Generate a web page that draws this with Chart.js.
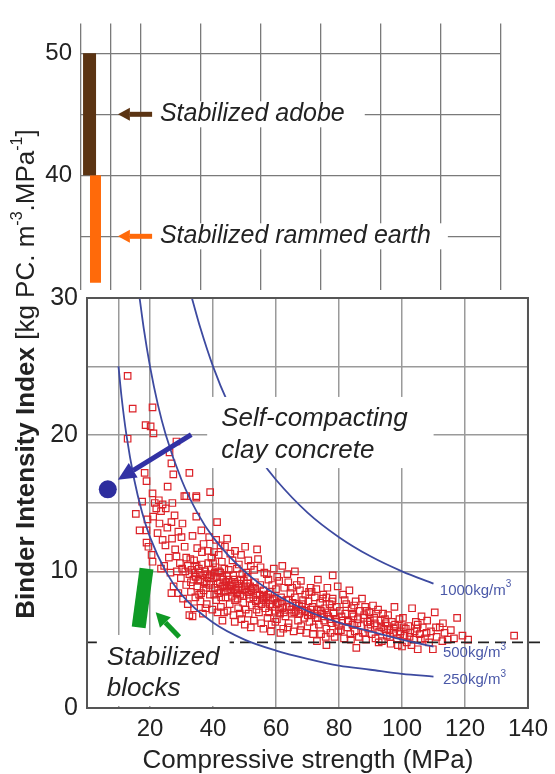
<!DOCTYPE html>
<html>
<head>
<meta charset="utf-8">
<script src="https://cdn.jsdelivr.net/npm/chart.js@4.4.1/dist/chart.umd.min.js"></script>
<style>
  html, body { margin: 0; padding: 0; background: #fff; }
  #wrap { position: relative; width: 555px; height: 774px; }
  canvas { position: absolute; left: 0; top: 0; }
</style>
</head>
<body>
<div id="wrap">
  <canvas id="lowerChart" width="555" height="774"></canvas>
  <canvas id="upperChart" width="555" height="774"></canvas>
</div>
<script>
// ---- valores ----
const xTicks = [0, 10, 20, 40, 60, 80, 100, 120, 140];
const xTickLabels = ['', '', '20', '40', '60', '80', '100', '120', '140'];
const lowerYTicks = [0, 10, 15, 20, 25, 30];
const lowerYLabels = ['0', '10', '', '20', '', '30'];
const upperYTicks = [35, 40, 45, 50];
const upperYLabels = ['', '40', '', '50'];

// painel superior (faixas verticais)
const adobeX = [2.85, 2.85];
const adobeY = [40, 50];
const rammedX = [4.83, 4.83];
const rammedY = [31.2, 40];

// painel inferior
const blocksX = [16.4, 18.9];
const blocksY = [5.9, 10.2];
const sccX = [6.6];
const sccY = [16.0];
const refLineX = [0, 145];
const refLineY = [4.8, 4.8];

const curve1000X = [33.3, 36, 40, 45, 50, 55, 60, 70, 80, 90, 100, 110];
const curve1000Y = [30, 27.8, 25, 22.2, 20, 18.2, 16.7, 14.3, 12.5, 11.1, 10, 9.1];
const curve500X = [16.7, 18, 20, 22.5, 25, 30, 35, 40, 50, 60, 70, 80, 90, 100, 110];
const curve500Y = [30, 27.8, 25, 22.2, 20, 16.7, 14.3, 12.5, 10, 8.3, 7.1, 6.25, 5.6, 5, 4.5];
const curve250X = [10, 11, 12.5, 15, 17.5, 20, 25, 30, 40, 50, 60, 70, 80, 90, 100, 110];
const curve250Y = [25, 22.7, 20, 16.7, 14.3, 12.5, 10, 8.3, 6.25, 5, 4.2, 3.6, 3.1, 2.8, 2.5, 2.3];

// nuvem de ensaios [resistência, índice]
const mixPoints = [
  [12.9,24.3],[14.5,21.9],[12.9,19.7],[16.7,13.0],[18.9,13.0],[18.9,12.1],[18.3,17.2],[18.9,16.6],[18.6,20.7],[15.5,14.2],[17.5,15.1],[19.2,13.8],[19.5,11.8],
  [20.2,20.6],[20.8,22.0],[21.1,20.1],[20.5,11.2],[20.8,10.7],[20.8,15.7],[21.5,15.0],[22.0,14.6],[22.8,15.2],[23.5,14.4],[24.0,14.9],[22.4,12.8],[24.0,12.3],[24.9,11.9],
  [25.6,16.2],[26.2,18.7],[26.8,17.9],[27.4,17.1],[27.1,15.0],[27.8,14.1],[26.8,13.6],[28.4,19.5],[23.0,13.5],[25.5,13.2],[26.0,11.0],[27.0,12.4],[28.0,11.6],[29.0,12.9],
  [28.4,11.1],[29.5,10.6],[24.5,10.4],[23.5,10.2],[26.5,9.9],[28.5,10.0],[29.8,9.5],[27.5,8.9],[29.0,8.4],[21.0,14.0],[25.0,14.6],[26.8,8.4],
  [30.2,10.2],[30.3,13.5],[30.0,12.5],[30.9,15.5],[32.5,17.2],[34.7,15.4],[34.7,14.0],[36.3,13.0],[38.8,12.5],[39.1,15.8],[31.0,11.8],[31.5,11.0],[32.0,10.4],[32.5,9.8],
  [33.0,9.2],[33.5,6.7],[33.0,8.5],[34.0,10.8],[34.5,9.6],[35.0,8.9],[35.5,10.2],[36.0,9.4],[36.5,11.4],[37.0,8.6],[37.5,10.0],[38.0,9.1],[38.5,10.6],[39.0,8.3],[39.5,9.7],
  [35.0,11.7],[36.0,7.8],[37.0,12.0],[38.0,7.6],[39.5,11.0],[31.5,9.0],[32.0,7.6],[34.0,7.3],[36.8,6.9],[33.5,12.6],[30.5,8.0],[39.8,7.2],[32.8,10.9],[35.8,9.9],[37.8,8.8],
  [31.2,10.0],[33.8,9.4],[36.2,8.4],[38.6,9.5],[32.5,6.8],[34.7,15.5],[31.5,15.5],
  [40.2,9.5],[40.5,8.8],[40.8,10.3],[41.0,7.9],[41.3,13.6],[41.5,9.1],[41.8,11.2],[42.0,8.4],[42.3,9.9],[42.5,7.4],[42.8,10.7],[43.0,8.9],[43.3,9.4],[43.5,7.0],[43.8,11.8],
  [44.0,8.1],[44.5,12.4],[44.5,9.7],[44.8,8.6],[45.0,10.1],[45.3,7.6],[45.6,9.0],[46.0,8.2],[46.2,10.8],[46.5,6.8],[46.8,9.4],[47.0,7.9],[47.3,8.7],[47.6,10.2],[48.0,7.3],
  [48.3,9.1],[48.6,8.3],[48.9,11.2],[49.0,6.5],[49.3,9.8],[49.6,7.7],[50.0,8.9],[41.0,12.3],[43.0,6.4],[47.0,11.5],[40.6,9.9],[42.6,8.1],[44.2,9.2],[45.8,8.5],[47.8,8.0],
  [49.8,9.3],[41.6,8.6],[43.6,10.2],[46.4,9.7],[48.2,10.5],
  [50.2,11.8],[50.4,7.2],[50.8,8.5],[51.0,9.6],[51.3,6.9],[51.6,8.0],[52.0,10.4],[52.3,7.5],[52.6,8.8],[53.0,6.4],[53.3,9.2],[53.6,7.8],[54.0,8.4],[54.3,10.9],[54.6,7.0],
  [55.0,9.0],[55.3,6.2],[55.6,7.9],[56.0,8.6],[56.3,9.9],[56.6,7.3],[57.0,8.1],[57.3,6.6],[57.6,9.4],[58.0,7.6],[58.3,8.5],[58.6,6.1],[59.0,7.9],[59.3,10.2],[59.6,7.1],
  [60.0,8.7],[52.0,5.9],[56.0,5.8],[54.0,11.6],[51.8,8.9],[53.8,7.2],[55.8,8.2],[57.8,7.0],[50.6,9.9],[58.8,9.0],
  [60.3,6.5],[60.6,7.7],[61.0,9.3],[61.3,6.9],[61.6,8.1],[62.0,7.3],[62.3,5.8],[62.6,8.8],[63.0,6.7],[63.3,7.9],[63.6,9.8],[64.0,6.2],[64.3,7.4],[64.6,8.4],[65.0,6.9],
  [65.3,7.7],[65.6,5.6],[66.0,8.1],[66.3,7.1],[66.6,9.0],[67.0,6.4],[67.3,7.5],[67.6,8.6],[68.0,6.0],[68.3,7.2],[68.6,7.9],[69.0,6.6],[69.3,8.3],[69.6,5.5],[70.0,7.0],
  [62.0,10.4],[66.0,10.0],
  [70.3,7.8],[70.6,6.3],[71.0,8.8],[71.3,6.8],[71.6,7.4],[72.0,5.9],[72.3,8.1],[72.6,6.6],[73.0,7.2],[73.3,9.4],[73.6,6.1],[74.0,7.7],[74.3,5.4],[74.6,6.9],[75.0,8.3],
  [75.3,6.4],[75.6,7.3],[76.0,5.8],[76.3,8.8],[76.6,6.7],[77.0,7.6],[77.3,5.5],[77.6,6.2],[78.0,8.0],[78.3,7.0],[78.6,5.2],[79.0,6.5],[79.3,7.4],[79.6,8.9],[80.0,6.0],
  [73.0,4.9],[76.0,4.6],[78.0,9.7],[71.3,8.5],[76.0,8.1],
  [80.3,7.1],[80.6,5.7],[81.0,6.4],[81.3,8.3],[81.6,5.1],[82.0,6.9],[82.3,7.6],[82.6,5.9],[83.0,6.3],[83.3,8.6],[83.6,5.4],[84.0,7.3],[84.3,6.1],[84.6,6.7],[85.0,5.6],
  [85.5,4.4],[85.3,7.8],[86.0,6.5],[86.3,5.2],[86.6,7.1],[87.0,6.0],[87.3,8.0],[87.6,5.5],[88.0,6.8],[88.3,7.4],[88.6,5.0],[89.0,6.3],[89.3,5.8],[89.6,7.0],[90.0,6.1],
  [90.4,5.4],[90.8,7.5],[91.2,6.6],[91.6,5.1],[92.0,6.0],[92.4,7.2],[92.8,5.6],[93.2,6.4],[93.6,4.9],[94.0,6.9],[94.4,5.8],[94.8,6.2],[95.2,5.3],[95.6,6.8],[96.0,5.7],
  [96.4,4.7],[96.8,6.3],[97.2,5.5],[97.6,7.4],[98.0,5.9],[98.4,5.1],[98.7,4.6],[99.2,6.5],[99.6,5.6],[100.0,4.5],
  [100.3,6.6],[100.8,5.3],[101.5,4.8],[102.0,6.0],[102.6,5.5],[103.2,7.3],[103.8,5.0],[104.4,6.3],[105.0,6.1],[105.0,4.3],[105.6,5.4],[106.6,5.9],[107.3,5.1],[108.0,6.4],
  [108.6,4.8],[109.2,5.6],[109.8,4.3],[110.4,7.0],[111.0,5.2],[112.0,5.9],[112.8,4.9],[113.5,5.5],[114.5,5.0],[115.5,5.7],[116.5,5.1],[119.2,5.3],[117.5,6.6],[121.0,5.0],
  [135.6,5.3],
  // núcleo denso da nuvem
  [33.2,10.1],[34.2,9.9],[34.8,10.4],[35.4,9.3],[36.4,10.5],[36.9,9.7],[37.3,9.2],[38.2,9.8],[38.9,9.0],[39.3,10.1],[40.0,10.6],[40.4,8.3],[41.2,9.6],[41.9,10.0],[42.2,9.2],
  [42.9,9.6],[43.4,8.5],[43.9,9.0],[44.4,8.8],[44.9,9.4],[45.4,8.9],[45.9,9.2],[46.6,8.6],[47.1,9.1],[47.6,8.4],[48.1,8.8],[48.7,9.4],[49.2,8.6],[49.7,8.2],[50.3,8.7],
  [50.9,9.1],[51.4,8.3],[52.1,8.6],[52.8,8.1],[53.4,8.7],[54.1,7.9],[54.8,8.3],[55.4,7.6],[56.1,8.0],[56.8,7.7],[57.5,8.3],[58.1,7.9],[58.9,7.4],[59.5,8.0],[60.2,7.6],
  [60.9,7.2],[61.8,7.8],[62.5,7.0],[63.4,7.4],[64.1,7.9],[64.9,7.2],[65.8,7.0],[66.5,7.5],[67.4,6.9],[68.2,7.6],[69.1,7.1],[70.1,6.8],[71.1,7.2],[72.1,6.9],[73.2,6.6],
  [74.2,7.1],[75.2,6.7],[76.2,7.0],[77.2,6.5],[78.2,6.9],[79.2,6.3],
  [34.4,8.1],[35.6,8.3],[37.6,7.3],[38.4,11.5],[40.3,11.4],[41.4,7.0],[42.4,11.9],[44.6,7.1],[45.5,11.3],[46.9,6.3],[48.5,6.9],[50.1,6.1],[51.2,10.8],[53.1,10.1],[55.1,10.3],
  [57.1,9.8],[58.4,5.6],[60.4,9.6],[61.4,5.5],[63.9,9.2],[65.1,8.8],[67.9,9.3],[70.5,8.5],[72.8,8.7],[74.8,8.0],[77.8,7.8],[81.8,7.9],[84.8,7.5],[88.8,7.1],[91.8,6.9],
  [94.6,6.5],[97.8,6.1],[101.2,5.8],[104.0,5.6],[106.2,6.7],[107.8,5.5],[110.8,5.9],[113.0,6.2],[103.0,4.6],[96.2,5.2],[92.6,4.8],[88.2,5.5],[83.8,5.0],[79.8,5.6],[75.8,5.2],
  [71.8,5.4],[67.8,5.7],[63.8,5.9],[59.8,6.3],
  [80.8,6.7],[82.8,6.4],[84.2,6.9],[85.8,6.2],[87.8,6.6],[89.8,6.4],[91.4,6.2],[93.4,5.9],[95.4,6.0],[97.4,5.8],[99.4,5.4],[100.6,5.9],[102.4,5.2],[104.8,5.8],[106.0,5.0]
];

// ---- aparência ----
const FONT = "'Liberation Sans', Arial, sans-serif";
const INK = '#222';
const CURVE = '#3d4aa0';

const toXY = (xs, ys) => xs.map((x, i) => ({ x, y: ys[i] }));

// desenha trechos de texto em sequência (para os expoentes)
function drawRuns(ctx, runs, x, y) {
    let cx = x;
    runs.forEach(r => {
        ctx.font = r.font;
        ctx.fillText(r.text, cx, y + (r.dy || 0));
        cx += ctx.measureText(r.text).width;
    });
}
function runsWidth(ctx, runs) {
    let w = 0;
    runs.forEach(r => { ctx.font = r.font; w += ctx.measureText(r.text).width; });
    return w;
}

function drawArrow(ctx, x1, y1, x2, y2, color, width, headLen, headW) {
    const a = Math.atan2(y2 - y1, x2 - x1);
    const bx = x2 - Math.cos(a) * headLen, by = y2 - Math.sin(a) * headLen;
    ctx.save();
    ctx.strokeStyle = color;
    ctx.fillStyle = color;
    ctx.lineWidth = width;
    ctx.beginPath();
    ctx.moveTo(x1, y1);
    ctx.lineTo(bx, by);
    ctx.stroke();
    ctx.beginPath();
    ctx.moveTo(x2, y2);
    ctx.lineTo(bx + Math.sin(a) * headW / 2, by - Math.cos(a) * headW / 2);
    ctx.lineTo(bx - Math.sin(a) * headW / 2, by + Math.cos(a) * headW / 2);
    ctx.closePath();
    ctx.fill();
    ctx.restore();
}

// nota com fundo branco: pad = [esq, dir, cima, baixo]
function drawNote(chart, note) {
    const { ctx, scales: { x, y } } = chart;
    ctx.save();
    ctx.font = note.font;
    const px = x.getPixelForValue(note.x);
    const ys = note.y.map(v => y.getPixelForValue(v));
    const w = Math.max(...note.lines.map(t => ctx.measureText(t).width));
    ctx.fillStyle = '#fff';
    ctx.fillRect(px - note.pad[0], ys[0] - note.pad[2],
        w + note.pad[0] + note.pad[1], ys[ys.length - 1] - ys[0] + note.pad[2] + note.pad[3]);
    ctx.fillStyle = INK;
    ctx.textBaseline = 'middle';
    ctx.textAlign = 'left';
    note.lines.forEach((t, i) => ctx.fillText(t, px, ys[i]));
    ctx.restore();
}

const upperNotes = [
    { lines: ['Stabilized adobe'], x: 26.3, y: [45], font: 'italic 25px ' + FONT, pad: [8, 20, 13, 13] },
    { lines: ['Stabilized rammed earth'], x: 26.3, y: [35], font: 'italic 25px ' + FONT, pad: [8, 17, 13, 13] }
];
const lowerNotes = [
    { lines: ['Self-compacting', 'clay concrete'], x: 42.6, y: [21.15, 18.8], font: 'italic 26px ' + FONT, pad: [14, 26, 22, 17] },
    { lines: ['Stabilized', 'blocks'], x: 6.3, y: [3.66, 1.39], font: 'italic 26px ' + FONT, pad: [10, 10, 23, 17] }
];
const curveLabels = [
    { text: '1000kg/m', x: 112, y: 8.6 },
    { text: '500kg/m', x: 113, y: 4.0 },
    { text: '250kg/m', x: 113, y: 2.05 }
];

const upperArrows = [
    { from: [23.7, 45], to: [12.3, 45], color: '#5b3413' },
    { from: [23.7, 35], to: [12.3, 35], color: '#ff6a0a' }
];
const sccArrow = { from: [33.1, 20.0], to: [9.8, 16.7] };
const blocksArrow = { from: [29.3, 5.2], to: [21.8, 7.0] };

Chart.defaults.font.family = FONT;
Chart.defaults.color = INK;

// ---- painel inferior ----
const lowerPlugin = {
    id: 'lowerDecor',
    afterDatasetsDraw(chart) {
        const { ctx, chartArea: a, scales: { x, y } } = chart;
        lowerNotes.forEach(n => drawNote(chart, n));

        ctx.save();
        ctx.strokeStyle = '#555';
        ctx.lineWidth = 2;
        ctx.strokeRect(a.left, a.top, a.right - a.left, a.bottom - a.top);
        ctx.restore();

        drawArrow(ctx, x.getPixelForValue(sccArrow.from[0]), y.getPixelForValue(sccArrow.from[1]),
            x.getPixelForValue(sccArrow.to[0]), y.getPixelForValue(sccArrow.to[1]), '#3232a4', 5, 18, 17);
        drawArrow(ctx, x.getPixelForValue(blocksArrow.from[0]), y.getPixelForValue(blocksArrow.from[1]),
            x.getPixelForValue(blocksArrow.to[0]), y.getPixelForValue(blocksArrow.to[1]), '#0f9a25', 5, 14, 15);

        ctx.save();
        ctx.fillStyle = '#4a58a8';
        ctx.textBaseline = 'middle';
        curveLabels.forEach(c => {
            drawRuns(ctx, [
                { text: c.text, font: '15px ' + FONT },
                { text: '3', font: '10px ' + FONT, dy: -6 }
            ], x.getPixelForValue(c.x), y.getPixelForValue(c.y));
        });
        ctx.restore();
    },
    afterDraw(chart) {
        const ctx = chart.ctx;
        ctx.save();
        ctx.fillStyle = INK;
        ctx.textBaseline = 'middle';
        ctx.textAlign = 'center';
        ctx.font = '26px ' + FONT;
        ctx.fillText('Compressive strength (MPa)', 308, 761);

        // título do eixo y, girado
        const runs = [
            { text: 'Binder Intensity Index ', font: 'bold 26px ' + FONT },
            { text: '[kg PC. m', font: '26px ' + FONT },
            { text: '-3', font: '16px ' + FONT, dy: -9 },
            { text: '.MPa', font: '26px ' + FONT },
            { text: '-1', font: '16px ' + FONT, dy: -9 },
            { text: ']', font: '26px ' + FONT }
        ];
        ctx.textAlign = 'left';
        ctx.translate(27, 374);
        ctx.rotate(-Math.PI / 2);
        drawRuns(ctx, runs, -runsWidth(ctx, runs) / 2, 0);
        ctx.restore();
    }
};

new Chart(document.getElementById('lowerChart'), {
    type: 'scatter',
    data: {
        datasets: [
            { data: toXY(sccX, sccY), pointRadius: 9, pointBackgroundColor: '#2e2e9e', pointBorderWidth: 0 },
            { data: toXY(blocksX, blocksY), showLine: true, borderColor: '#0f9a25', borderWidth: 14, borderCapStyle: 'butt', pointRadius: 0 },
            { data: toXY(curve1000X, curve1000Y), showLine: true, borderColor: CURVE, borderWidth: 1.8, pointRadius: 0, cubicInterpolationMode: 'monotone' },
            { data: toXY(curve500X, curve500Y), showLine: true, borderColor: CURVE, borderWidth: 1.8, pointRadius: 0, cubicInterpolationMode: 'monotone' },
            { data: toXY(curve250X, curve250Y), showLine: true, borderColor: CURVE, borderWidth: 1.8, pointRadius: 0, cubicInterpolationMode: 'monotone' },
            { data: toXY(refLineX, refLineY), showLine: true, borderColor: INK, borderWidth: 1.6, borderDash: [11, 6], pointRadius: 0, clip: false },
            {
                data: mixPoints.map(p => ({ x: p[0], y: p[1] })),
                pointStyle: 'rect', pointRadius: 4.6, borderWidth: 1.2,
                pointBorderColor: '#dc2228', pointBackgroundColor: 'rgba(0,0,0,0)'
            }
        ]
    },
    options: {
        responsive: false,
        animation: false,
        events: [],
        layout: { padding: { top: 298, right: 24, bottom: 0, left: 0 } },
        plugins: { legend: { display: false }, tooltip: { enabled: false } },
        scales: {
            x: {
                type: 'linear', min: 0, max: 140,
                afterBuildTicks: s => { s.ticks = xTicks.map(v => ({ value: v })); },
                afterFit: s => { s.height = 66; },
                ticks: { callback: (v, i) => xTickLabels[i], font: { size: 24 }, padding: 7, maxRotation: 0, autoSkip: false },
                grid: { color: '#9a9a9a', lineWidth: 1.5, drawTicks: false },
                border: { display: false }
            },
            y: {
                min: 0, max: 30,
                afterBuildTicks: s => { s.ticks = lowerYTicks.map(v => ({ value: v })); },
                afterFit: s => { s.width = 87; },
                ticks: { callback: (v, i) => lowerYLabels[i], font: { size: 25 }, padding: 9, autoSkip: false },
                grid: { color: '#9a9a9a', lineWidth: 1.5, drawTicks: false },
                border: { display: false }
            }
        }
    },
    plugins: [lowerPlugin]
});

// ---- painel superior ----
const upperPlugin = {
    id: 'upperDecor',
    afterDatasetsDraw(chart) {
        const { ctx, scales: { x, y } } = chart;
        upperNotes.forEach(n => drawNote(chart, n));
        upperArrows.forEach(ar => {
            drawArrow(ctx, x.getPixelForValue(ar.from[0]), y.getPixelForValue(ar.from[1]),
                x.getPixelForValue(ar.to[0]), y.getPixelForValue(ar.to[1]), ar.color, 5, 12, 13);
        });
    }
};

new Chart(document.getElementById('upperChart'), {
    type: 'scatter',
    data: {
        datasets: [
            { data: toXY(adobeX, adobeY), showLine: true, borderColor: '#5b3413', borderWidth: 13, borderCapStyle: 'butt', pointRadius: 0 },
            { data: toXY(rammedX, rammedY), showLine: true, borderColor: '#ff6a0a', borderWidth: 11, borderCapStyle: 'butt', pointRadius: 0 }
        ]
    },
    options: {
        responsive: false,
        animation: false,
        events: [],
        layout: { padding: { top: 13, right: 54, bottom: 484, left: 0 } },
        plugins: { legend: { display: false }, tooltip: { enabled: false } },
        scales: {
            x: {
                type: 'linear', min: 0, max: 140,
                afterBuildTicks: s => { s.ticks = xTicks.map(v => ({ value: v })); },
                afterFit: s => { s.height = 0; },
                ticks: { display: false },
                grid: { color: '#7a7a7a', lineWidth: 1.3, drawTicks: false },
                border: { display: false }
            },
            y: {
                min: 30.6, max: 52.45,
                afterBuildTicks: s => { s.ticks = upperYTicks.map(v => ({ value: v })); },
                afterFit: s => { s.width = 81; },
                ticks: { callback: (v, i) => upperYLabels[i], font: { size: 24 }, padding: 9, autoSkip: false },
                grid: { color: '#7a7a7a', lineWidth: 1.3, drawTicks: false },
                border: { display: false }
            }
        }
    },
    plugins: [upperPlugin]
});
</script>
</body>
</html>
